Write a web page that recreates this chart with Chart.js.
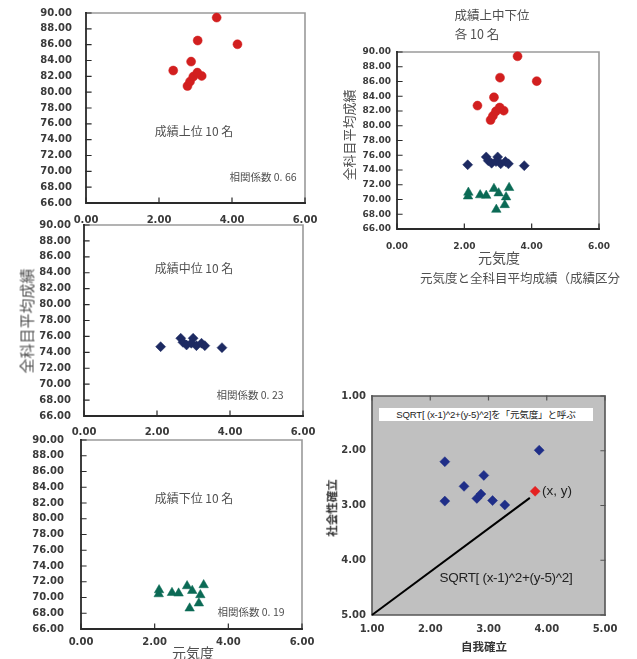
<!DOCTYPE html>
<html>
<head>
<meta charset="utf-8">
<script src="https://cdn.jsdelivr.net/npm/chart.js@4/dist/chart.umd.min.js"></script>
<style>
  html, body { margin: 0; padding: 0; background: #fff; }
  #wrap { position: relative; width: 637px; height: 659px; overflow: hidden; }
  canvas { position: absolute; }
  .t { position: absolute; white-space: nowrap; line-height: 1; transform: translate(-50%, -50%);
       font-family: "Noto Sans CJK JP", sans-serif; color: #505050; }
  .v { transform: translate(-50%, -50%) rotate(-90deg); }
  .lat { font-family: "Liberation Sans", "Noto Sans CJK JP", sans-serif; color: #222; }
  #box { position: absolute; left: 379px; top: 408px; width: 214px; height: 13px; background: #fff;
         font-family: "Liberation Sans", "Noto Sans CJK JP", sans-serif; font-size: 9.6px; color: #222;
         line-height: 13px; text-align: center; white-space: nowrap; letter-spacing: -0.2px; }
</style>
</head>
<body>
<div id="wrap">
  <canvas id="c1"></canvas>
  <canvas id="c2"></canvas>
  <canvas id="c3"></canvas>
  <canvas id="c4"></canvas>
  <canvas id="c5"></canvas>

  <div class="t" style="left:194px;top:131px;font-size:12px;">成績上位 10 名</div>
  <div class="t" style="left:263px;top:177px;font-size:10.5px;">相関係数 0. 66</div>

  <div class="t" style="left:194px;top:268px;font-size:12px;">成績中位 10 名</div>
  <div class="t" style="left:250px;top:395px;font-size:10.5px;">相関係数 0. 23</div>
  <div class="t v" style="left:26px;top:321px;font-size:15px;">全科目平均成績</div>

  <div class="t" style="left:194px;top:498px;font-size:12px;">成績下位 10 名</div>
  <div class="t" style="left:251px;top:612px;font-size:10.5px;">相関係数 0. 19</div>
  <div class="t" style="left:193px;top:652px;font-size:14px;">元気度</div>

  <div class="t" style="left:492px;top:15px;font-size:12.5px;">成績上中下位</div>
  <div class="t" style="left:477px;top:34px;font-size:12.5px;">各 10 名</div>
  <div class="t v" style="left:348px;top:135px;font-size:13px;">全科目平均成績</div>
  <div class="t" style="left:499px;top:257px;font-size:14px;">元気度</div>
  <div class="t" style="left:520px;top:278px;font-size:12.5px;">元気度と全科目平均成績（成績区分</div>

  <div id="box">SQRT[ (x-1)^2+(y-5)^2]を「元気度」と呼ぶ</div>
  <div class="t lat" style="left:557px;top:491px;font-size:13.5px;">(x, y)</div>
  <div class="t lat" style="left:506px;top:578px;font-size:13.5px;letter-spacing:-0.3px;">SQRT[ (x-1)^2+(y-5)^2]</div>
  <div class="t" style="left:484px;top:647px;font-size:11.5px;font-weight:bold;color:#333;">自我確立</div>
  <div class="t v" style="left:332px;top:508px;font-size:11.5px;font-weight:bold;color:#333;">社会性確立</div>
</div>

<script>
// 元気度 (x) and 全科目平均成績 (y) for each score group
const topGenki = [3.58, 4.15, 3.06, 2.88, 2.39, 3.17, 2.78, 2.85, 2.94, 3.05];
const topScore = [89.42, 86.05, 86.52, 83.86, 82.73, 82.05, 80.78, 81.34, 81.97, 82.47];

const midGenki = [2.10, 3.78, 2.65, 2.71, 2.81, 2.99, 2.94, 3.08, 3.22, 3.31];
const midScore = [74.71, 74.59, 75.77, 75.26, 74.92, 75.77, 75.14, 74.84, 75.14, 74.84];

const lowGenki = [2.11, 2.12, 2.47, 2.65, 2.88, 3.02, 3.33, 3.24, 3.20, 2.95];
const lowScore = [70.44, 70.95, 70.60, 70.53, 71.46, 70.86, 71.59, 70.32, 69.27, 68.63];

// 自我確立 (x) and 社会性確立 (y)
const selfEst = [2.25, 2.25, 2.58, 2.92, 2.80, 2.87, 3.07, 3.28, 3.87];
const social  = [2.20, 2.92, 2.65, 2.45, 2.87, 2.79, 2.91, 2.99, 1.99];
const markSelf = [3.80];
const markSocial = [2.74];
const distSelf = [1.00, 3.71];
const distSocial = [5.00, 2.86];

// tick values
const genkiTicks = [0, 2, 4, 6];
const scoreTicks = [66, 68, 70, 72, 74, 76, 78, 80, 82, 84, 86, 88, 90];
const identityTicks = [1, 2, 3, 4, 5];

const pts = (xs, ys) => xs.map((x, i) => ({ x, y: ys[i] }));

const RED = '#d21f1f', NAVY = '#1d2a62', GREEN = '#0b6a55';

// frame: chart-area fill, border and short inward tick marks
const framePlugin = {
  id: 'frame',
  beforeDraw(chart, args, o) {
    const a = chart.chartArea, ctx = chart.ctx;
    if (o.fill) {
      ctx.save(); ctx.fillStyle = o.fill;
      ctx.fillRect(a.left, a.top, a.right - a.left, a.bottom - a.top);
      ctx.restore();
    }
  },
  beforeDatasetsDraw(chart, args, o) {
    const a = chart.chartArea, ctx = chart.ctx;
    const xs = chart.scales.x, ys = chart.scales.y;
    ctx.save();
    ctx.lineCap = 'square';
    // top and right edges
    ctx.strokeStyle = o.edge; ctx.lineWidth = o.edgeWidth;
    ctx.beginPath();
    ctx.moveTo(a.left, a.top); ctx.lineTo(a.right, a.top); ctx.lineTo(a.right, a.bottom);
    ctx.stroke();
    // axis lines
    ctx.strokeStyle = o.axis; ctx.lineWidth = o.axisWidth;
    ctx.beginPath();
    ctx.moveTo(a.left, a.top); ctx.lineTo(a.left, a.bottom); ctx.lineTo(a.right, a.bottom);
    ctx.stroke();
    // tick marks
    const L = o.tickLen;
    ctx.lineWidth = 1.2; ctx.strokeStyle = o.axis;
    ctx.beginPath();
    (o.sides || []).forEach(side => {
      if (side === 'left' || side === 'right') {
        ys.ticks.forEach(t => {
          const p = ys.getPixelForValue(t.value);
          if (side === 'left') { ctx.moveTo(a.left, p); ctx.lineTo(a.left + L, p); }
          else { ctx.moveTo(a.right, p); ctx.lineTo(a.right - L, p); }
        });
      } else {
        xs.ticks.forEach(t => {
          const p = xs.getPixelForValue(t.value);
          if (side === 'bottom') { ctx.moveTo(p, a.bottom); ctx.lineTo(p, a.bottom - L); }
          else { ctx.moveTo(p, a.top); ctx.lineTo(p, a.top + L); }
        });
      }
    });
    ctx.stroke();
    ctx.restore();
  }
};

// the gap between axis and labels is made with an invisible tick mark,
// so it does not add to the scale's outer padding
const gapGrid = gap => ({ display: true, drawOnChartArea: false, drawTicks: true,
                          tickLength: gap, tickColor: 'rgba(0,0,0,0)' });

function panel(id, box, area, xr, yr, datasets, opts) {
  const cv = document.getElementById(id);
  cv.width = box.w; cv.height = box.h;
  cv.style.left = box.x + 'px'; cv.style.top = box.y + 'px';
  const tickFont = { family: 'DejaVu Sans', weight: 'bold', size: opts.font };
  new Chart(cv, {
    type: 'scatter',
    data: { datasets },
    plugins: [framePlugin],
    options: {
      responsive: false,
      animation: false,
      layout: { padding: { left: 0, top: area.t - box.y, right: box.x + box.w - area.r, bottom: 0 } },
      plugins: {
        legend: { display: false },
        tooltip: { enabled: false },
        frame: opts.frame
      },
      scales: {
        x: {
          type: 'linear', min: xr.min, max: xr.max,
          afterBuildTicks: s => { s.ticks = xr.ticks.map(v => ({ value: v })); },
          grid: gapGrid(opts.xPad),
          border: { display: false },
          ticks: { font: tickFont, color: '#3a3a3a', padding: 0, autoSkip: false, maxRotation: 0,
                   callback: v => Number(v).toFixed(2) },
          afterFit: s => { s.height = box.y + box.h - area.b; }
        },
        y: {
          type: 'linear', min: yr.min, max: yr.max, reverse: !!yr.reverse,
          afterBuildTicks: s => { s.ticks = yr.ticks.map(v => ({ value: v })); },
          grid: gapGrid(opts.yPad),
          border: { display: false },
          ticks: { font: tickFont, color: '#3a3a3a', padding: 0, autoSkip: false,
                   callback: v => Number(v).toFixed(2) },
          afterFit: s => { s.width = area.l - box.x; }
        }
      }
    }
  });
}

const dot = (data, style, color, r) => ({
  data, pointStyle: style, pointRadius: r, pointBackgroundColor: color,
  pointBorderColor: color, pointBorderWidth: 0.5, clip: false
});

const plainFrame = { edge: '#9a9a9a', edgeWidth: 1.6, axis: '#2a2a2a', axisWidth: 1.8, tickLen: 5, sides: ['left', 'bottom'] };
const gXR = { min: 0, max: 6, ticks: genkiTicks };
const gYR = { min: 66, max: 90, ticks: scoreTicks };

panel('c1', { x: 0, y: 0, w: 320, h: 230 }, { l: 86, t: 13, r: 305, b: 203 }, gXR, gYR,
  [dot(pts(topGenki, topScore), 'circle', RED, 4.5)],
  { font: 10, xPad: 11, yPad: 14, frame: plainFrame });

panel('c2', { x: 0, y: 215, w: 320, h: 225 }, { l: 84, t: 225, r: 303, b: 416 }, gXR, gYR,
  [dot(pts(midGenki, midScore), 'rectRot', NAVY, 5)],
  { font: 10, xPad: 10, yPad: 13, frame: plainFrame });

panel('c3', { x: 0, y: 430, w: 320, h: 229 }, { l: 81, t: 440, r: 302, b: 629 }, gXR, gYR,
  [dot(pts(lowGenki, lowScore), 'triangle', GREEN, 5.5)],
  { font: 10, xPad: 7, yPad: 17, frame: plainFrame });

panel('c4', { x: 320, y: 0, w: 317, h: 300 }, { l: 397, t: 52, r: 599, b: 229 }, gXR, gYR,
  [dot(pts(topGenki, topScore), 'circle', RED, 4.5),
   dot(pts(midGenki, midScore), 'rectRot', NAVY, 5),
   dot(pts(lowGenki, lowScore), 'triangle', GREEN, 5.5)],
  { font: 9, xPad: 12, yPad: 6, frame: plainFrame });

panel('c5', { x: 320, y: 380, w: 317, h: 279 }, { l: 372, t: 396, r: 605, b: 615 },
  { min: 1, max: 5, ticks: identityTicks }, { min: 1, max: 5, ticks: identityTicks, reverse: true },
  [{ data: pts(distSelf, distSocial), showLine: true, borderColor: '#000', borderWidth: 2,
     pointRadius: 0, clip: false },
   dot(pts(selfEst, social), 'rectRot', '#1f2e88', 5),
   dot(pts(markSelf, markSocial), 'rectRot', '#e42222', 5)],
  { font: 10, xPad: 8, yPad: 6,
    frame: { fill: '#c0c0c0', edge: '#555', edgeWidth: 1.6, axis: '#555', axisWidth: 1.6, tickLen: 4, sides: ['top', 'right'] } });
</script>
</body>
</html>
